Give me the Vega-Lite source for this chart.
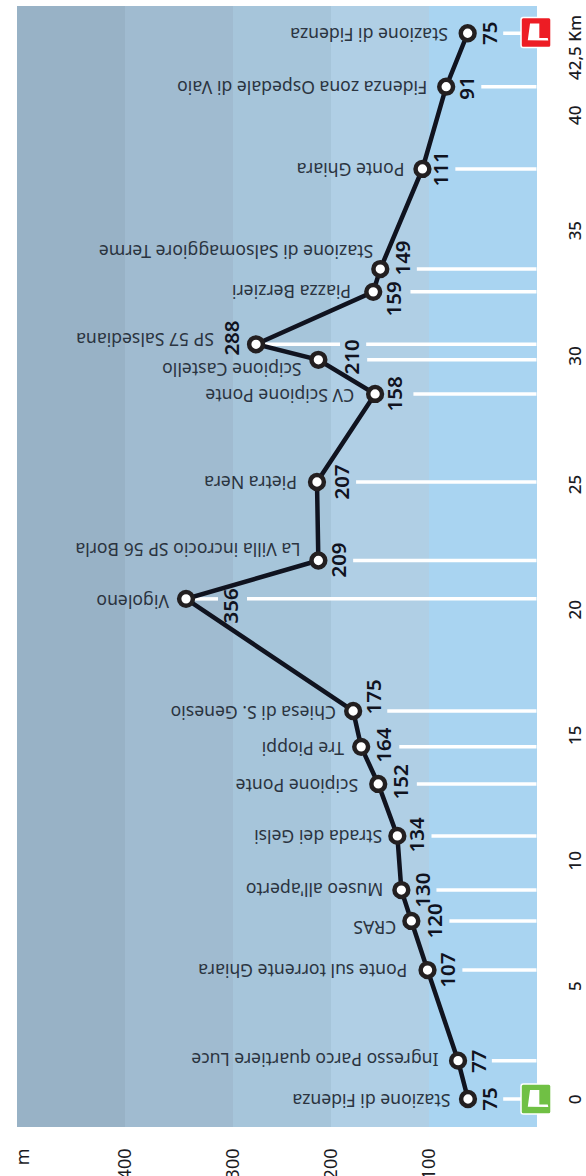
{"$schema":"https://vega.github.io/schema/vega-lite/v6.json","width":520,"height":1121,"autosize":{"type":"none"},"padding":{"left":17,"top":6,"right":49,"bottom":49},"background":"white","config":{"view":{"stroke":null},"font":"Noto Sans"},"datasets":{"bands":[{"band":"0-100","from":0,"to":100},{"band":"100-200","from":100,"to":200},{"band":"200-300","from":200,"to":300},{"band":"300-400","from":300,"to":400},{"band":"400-500","from":400,"to":500}],"stops":[{"km":0,"m":63.9,"quota":75,"name":"Stazione di Fidenza","label_m":42.7,"label_km":0,"name_m":80.2,"name_km":0},{"km":1.53,"m":73.1,"quota":77,"name":"Ingresso Parco quartiere Luce","label_m":52.5,"label_km":1.5,"name_m":91.2,"name_km":1.63},{"km":5.14,"m":101.5,"quota":107,"name":"Ponte sul torrente Ghiara","label_m":81.1,"label_km":5.14,"name_m":122.1,"name_km":5.18},{"km":7.1,"m":118,"quota":120,"name":"CRAS","label_m":93.1,"label_km":7.1,"name_m":133.3,"name_km":6.9},{"km":8.33,"m":128.2,"quota":130,"name":"Museo all'aperto","label_m":105.6,"label_km":8.33,"name_m":146.7,"name_km":8.41},{"km":10.49,"m":132.3,"quota":134,"name":"Strada dei Gelsi","label_m":110.8,"label_km":10.53,"name_m":147.7,"name_km":10.53},{"km":12.56,"m":151.8,"quota":152,"name":"Scipione Ponte","label_m":127.2,"label_km":12.64,"name_m":172.3,"name_km":12.56},{"km":14.04,"m":169.2,"quota":164,"name":"Tre Pioppi","label_m":144.6,"label_km":14.11,"name_m":186.7,"name_km":14.04},{"km":15.47,"m":177.4,"quota":175,"name":"Chiesa di S. Genesio","label_m":154.9,"label_km":16.03,"name_m":194.9,"name_km":15.47},{"km":19.94,"m":343.5,"quota":356,"name":"Vigoleno","label_m":300.9,"label_km":19.66,"name_m":359.3,"name_km":19.9},{"km":21.47,"m":212.9,"quota":209,"name":"La Villa incrocio SP 56 Borla","label_m":190.8,"label_km":21.49,"name_m":231.1,"name_km":21.97},{"km":24.6,"m":214.3,"quota":207,"name":"Pietra Nera","label_m":187.7,"label_km":24.6,"name_m":234.7,"name_km":24.64},{"km":28.11,"m":155,"quota":158,"name":"CV Scipione Ponte","label_m":133.3,"label_km":28.11,"name_m":176.4,"name_km":28.11},{"km":29.47,"m":212.9,"quota":210,"name":"Scipione Castello","label_m":178,"label_km":29.59,"name_m":230,"name_km":29.15},{"km":30.09,"m":276.5,"quota":288,"name":"SP 57 Salsediana","label_m":300,"label_km":30.34,"name_m":317.6,"name_km":30.34},{"km":32.18,"m":156.9,"quota":159,"name":"Piazza Berzieri","label_m":134.4,"label_km":31.9,"name_m":179.5,"name_km":32.26},{"km":33.09,"m":149.7,"quota":149,"name":"Stazione di Salsomaggiore Terme","label_m":125.1,"label_km":33.53,"name_m":156.9,"name_km":33.85},{"km":37.08,"m":106.7,"quota":111,"name":"Ponte Ghiara","label_m":87.6,"label_km":37.08,"name_m":125.1,"name_km":37.12},{"km":40.36,"m":84.1,"quota":91,"name":"Fidenza zona Ospedale di Vaio","label_m":63.6,"label_km":40.31,"name_m":101.9,"name_km":40.39},{"km":42.49,"m":64.2,"quota":75,"name":"Stazione di Fidenza","label_m":42.7,"label_km":42.49,"name_m":82.3,"name_km":42.49}],"leaders":[{"km":0,"from":31.3,"to":0.5},{"km":1.53,"from":41.8,"to":0.5},{"km":5.14,"from":69.1,"to":0.5},{"km":7.1,"from":81.1,"to":0.5},{"km":8.33,"from":93.1,"to":0.5},{"km":10.49,"from":97.7,"to":0.5},{"km":12.56,"from":112.4,"to":0.5},{"km":14.04,"from":130.3,"to":0.5},{"km":15.47,"from":142.6,"to":0.5},{"km":19.94,"from":343.5,"to":313.9},{"km":19.94,"from":285.7,"to":0.5},{"km":21.47,"from":177.4,"to":0.5},{"km":24.6,"from":174.4,"to":0.5},{"km":28.11,"from":115.9,"to":0.5},{"km":29.47,"from":163.1,"to":0.5},{"km":30.09,"from":276.5,"to":190.8},{"km":30.09,"from":164.1,"to":0.5},{"km":32.18,"from":118.9,"to":0.5},{"km":33.09,"from":112.4,"to":0.5},{"km":37.08,"from":75.6,"to":0.5},{"km":40.36,"from":51.6,"to":0.5},{"km":42.49,"from":31.3,"to":0.5}],"flags":[{"flag":"start","km":0,"m":0.9},{"flag":"end","km":42.52,"m":0.9}]},"layer":[{"data":{"name":"bands"},"mark":{"type":"rect"},"encoding":{"x":{"field":"from","type":"quantitative","scale":{"domain":[500,400,300,200,100,0],"range":[0,108,216,314,412,520]},"axis":{"values":[494,400,300,200,100],"title":null,"grid":false,"domain":false,"ticks":false,"labelExpr":"datum.value==494?'m':datum.label","labelAngle":270,"labelAlign":"right","labelBaseline":"middle","labelPadding":21,"labelFontSize":18,"labelFont":"Noto Sans","labelColor":"#1b1b1f","labelOverlap":false,"labelFlush":false,"labelBound":false}},"x2":{"field":"to"},"color":{"field":"band","type":"nominal","legend":null,"scale":{"domain":["0-100","100-200","200-300","300-400","400-500"],"range":["#a9d4f1","#b0cfe5","#a6c5da","#a0bbd0","#98b2c6"]}}}},{"data":{"name":"leaders"},"mark":{"type":"rule","color":"white","strokeWidth":3.5},"encoding":{"x":{"field":"from","type":"quantitative"},"x2":{"field":"to"},"y":{"field":"km","type":"quantitative","scale":{"domain":[-1.116,43.577],"nice":false,"zero":false},"axis":{"orient":"right","values":[0,5,10,15,20,25,30,35,40,42.5],"title":null,"grid":false,"domain":false,"ticks":false,"labelExpr":"datum.value==42.5?'42,5 Km':datum.label","labelAngle":270,"labelAlign":"center","labelBaseline":"middle","labelPadding":38,"labelFontSize":17,"labelFont":"Noto Sans","labelFontWeight":500,"labelColor":"#1b1b1f","labelOverlap":false,"labelFlush":false,"labelBound":false,"labelOffset":{"condition":[{"test":"datum.value==0","value":0},{"test":"datum.value==40","value":19},{"test":"datum.value==42.5","value":14},{"test":"datum.value==30||datum.value==35","value":9}],"value":12}}}}},{"data":{"name":"stops"},"mark":{"type":"line","color":"#10131f","strokeWidth":4.5},"encoding":{"x":{"field":"m","type":"quantitative"},"y":{"field":"km","type":"quantitative"},"order":{"field":"km","type":"quantitative"}}},{"data":{"name":"stops"},"mark":{"type":"point","shape":"circle","filled":true,"fill":"white","stroke":"#231f20","strokeWidth":4.5,"size":190,"opacity":1},"encoding":{"x":{"field":"m","type":"quantitative"},"y":{"field":"km","type":"quantitative"}}},{"data":{"name":"stops"},"mark":{"type":"text","angle":270,"align":"center","baseline":"middle","fontSize":20.5,"fontWeight":600,"font":"Noto Sans","color":"#10131f"},"encoding":{"x":{"field":"label_m","type":"quantitative"},"y":{"field":"label_km","type":"quantitative"},"text":{"field":"quota","type":"quantitative"}}},{"data":{"name":"stops"},"mark":{"type":"text","angle":180,"align":"left","baseline":"middle","fontSize":17.6,"font":"Noto Sans","color":"#2b3440"},"encoding":{"x":{"field":"name_m","type":"quantitative"},"y":{"field":"name_km","type":"quantitative"},"text":{"field":"name","type":"nominal"}}},{"data":{"name":"flags"},"mark":{"type":"point","filled":true,"opacity":1,"size":900,"stroke":"white","strokeWidth":1.5,"shape":"M-0.85,-1H0.85Q1,-1 1,-0.85V0.85Q1,1 0.85,1H-0.85Q-1,1 -1,0.85V-0.85Q-1,-1 -0.85,-1Z","clip":false},"encoding":{"x":{"field":"m","type":"quantitative"},"y":{"field":"km","type":"quantitative"},"fill":{"field":"flag","type":"nominal","legend":null,"scale":{"domain":["start","end"],"range":["#70c044","#ed1c24"]}}}},{"data":{"name":"flags"},"mark":{"type":"point","filled":true,"opacity":1,"size":900,"color":"white","strokeWidth":0,"shape":"M-0.4,-0.6L0.22,-0.6L0.22,0.36L0.78,0.36L0.82,0.53L-0.55,0.51Z"},"encoding":{"x":{"field":"m","type":"quantitative"},"y":{"field":"km","type":"quantitative"}}}]}
